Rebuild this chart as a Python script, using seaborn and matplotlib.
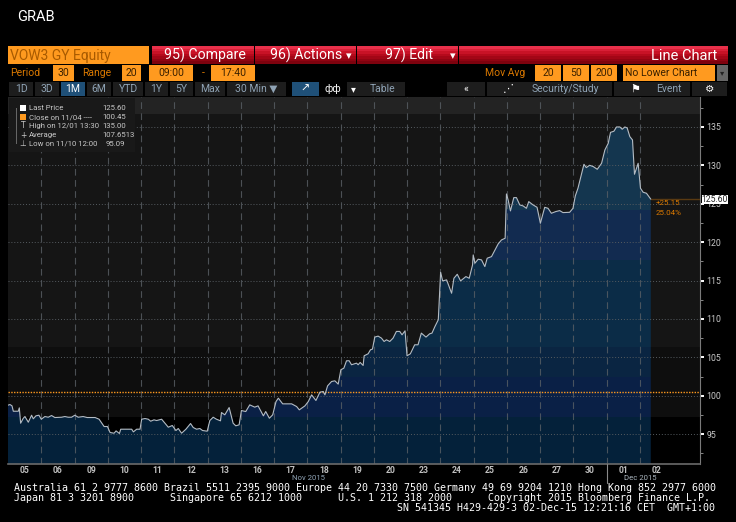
import numpy as np
import seaborn as sns
import matplotlib.pyplot as plt
from matplotlib.patches import Rectangle

# position in trading days since 05 Nov, 30 min closes
pos = [0.00, 0.06, 0.12, 0.16, 0.31, 0.34, 0.38, 0.46, 0.51, 0.61, 0.71, 0.76, 0.84, 0.93, 1.00, 1.11, 1.21, 1.31, 1.41, 1.61,
       1.71, 1.81, 1.91, 2.01, 2.11, 2.26, 2.38, 2.62, 2.74, 2.89, 2.99, 3.07, 3.19, 3.25, 3.35, 3.39, 3.62, 3.72, 3.77, 3.87,
       3.97, 4.02, 4.12, 4.22, 4.29, 4.39, 4.47, 4.62, 4.72, 4.82, 4.94, 5.05, 5.12, 5.22, 5.35, 5.49, 5.57, 5.67, 5.77, 5.85,
       5.99, 6.07, 6.17, 6.27, 6.39, 6.42, 6.52, 6.65, 6.77, 6.85, 6.95, 7.02, 7.15, 7.27, 7.42, 7.52, 7.68, 7.75, 7.86, 7.96,
       8.06, 8.13, 8.26, 8.53, 8.68, 8.76, 8.93, 9.03, 9.13, 9.26, 9.38, 9.48, 9.53, 9.61, 9.73, 9.83, 9.93, 10.01, 10.10, 10.18,
       10.26, 10.33, 10.48, 10.53, 10.59, 10.68, 10.71, 10.83, 10.90, 10.96, 11.03, 11.13, 11.23, 11.31, 11.38, 11.48, 11.58, 11.68, 11.78, 11.85,
       11.94, 12.00, 12.10, 12.23, 12.33, 12.43, 12.57, 12.68, 12.75, 12.84, 12.94, 12.97, 13.01, 13.07, 13.19, 13.34, 13.41, 13.51, 13.61, 13.77,
       13.87, 13.97, 13.99, 14.04, 14.14, 14.24, 14.34, 14.41, 14.54, 14.74, 14.84, 14.95, 14.99, 15.04, 15.11, 15.21, 15.29, 15.39, 15.49, 15.59,
       15.66, 15.79, 15.91, 16.01, 16.14, 16.24, 16.34, 16.47, 16.59, 16.69, 16.89, 16.99, 17.06, 17.14, 17.24, 17.32, 17.39, 17.49, 17.60, 17.72,
       17.85, 17.95, 18.05, 18.12, 18.22, 18.30, 18.40, 18.47, 18.55, 18.62, 18.70, 18.78, 18.84, 18.95, 19.02, 19.10, 19.20, 19.33]
price = [98.78, 98.86, 98.69, 97.99, 97.99, 98.43, 96.43, 97.08, 97.30, 96.56, 97.47, 97.00, 97.39, 97.47, 96.95, 97.30, 97.21, 97.43, 97.17, 97.21,
         97.30, 97.21, 97.21, 97.47, 97.21, 97.30, 97.17, 97.17, 96.95, 96.00, 96.00, 95.22, 95.13, 95.43, 95.09, 95.65, 95.65, 95.65, 95.30, 95.65,
         95.65, 96.95, 97.04, 96.95, 96.69, 96.87, 96.78, 96.95, 96.43, 95.91, 96.13, 95.48, 95.74, 95.13, 95.65, 96.39, 95.87, 95.65, 95.74, 95.48,
         95.39, 96.78, 97.21, 96.95, 96.74, 97.82, 97.52, 98.47, 96.43, 96.09, 96.22, 98.08, 97.95, 98.82, 98.52, 98.69, 97.39, 97.95, 97.08, 97.52,
         99.25, 99.69, 98.95, 98.95, 98.60, 98.17, 98.69, 99.25, 100.12, 99.39, 100.47, 100.56, 100.12, 101.29, 101.86, 101.95, 101.52, 103.39, 103.60, 104.56,
         104.56, 104.04, 104.25, 104.04, 104.34, 103.95, 105.21, 105.47, 105.99, 106.08, 107.64, 107.77, 107.51, 107.07, 107.29, 107.07, 107.51, 108.38, 108.38, 107.94,
         108.46, 105.21, 105.47, 106.64, 106.64, 108.16, 107.64, 108.07, 108.16, 109.03, 109.90, 112.48, 116.08, 114.96, 115.09, 113.35, 115.30, 115.82, 114.96, 115.52,
         115.30, 117.04, 118.34, 117.26, 117.78, 117.69, 116.82, 117.91, 118.12, 119.77, 120.29, 120.51, 126.28, 125.50, 124.07, 125.80, 125.80, 124.85, 124.72, 124.41,
         125.28, 124.85, 124.54, 122.46, 124.54, 124.41, 123.76, 123.98, 124.11, 123.85, 123.89, 124.41, 126.02, 127.02, 128.75, 130.14, 129.71, 130.01, 129.84, 129.49,
         130.27, 132.01, 132.87, 134.30, 134.44, 135.00, 135.00, 134.70, 135.00, 134.87, 133.74, 133.31, 128.84, 130.27, 127.02, 126.50, 126.37, 125.60]
day_labels = ["05", "06", "09", "10", "11", "12", "13", "16", "17", "18", "19", "20", "23", "24", "25", "26", "27", "30", "01", "02"]
y_ticks = [95, 100, 105, 110, 115, 120, 125, 130, 135]
close_level = 100.45
last_price = 125.60

W, H = 736, 522
ORANGE = "#ff9a1f"
DARK_ORANGE = "#d97800"
BTN_TXT = "#8fa3b5"

sns.set_style("dark")
plt.rcParams["font.family"] = ["Roboto", "DejaVu Sans"]

fig = plt.figure(figsize=(W / 100, H / 100), dpi=100, facecolor="black")


def box(x0, y0, x1, y1, color, **kw):
    fig.add_artist(Rectangle((x0 / W, 1 - y1 / H), (x1 - x0) / W, (y1 - y0) / H, transform=fig.transFigure,
                             facecolor=color, edgecolor="none", **kw))


def txt(x, y, s, color="white", size=7, ha="left", **kw):
    fig.text(x / W, 1 - y / H, s, color=color, fontsize=size, ha=ha, va="center", **kw)


def red_button(x0, x1):
    shades = ["#e8304a", "#d81f36", "#c81226", "#b50a1c", "#a30616", "#900412", "#7e020e"]
    step = 18 / len(shades)
    for i, c in enumerate(shades):
        box(x0, 46 + i * step, x1, 46 + (i + 1) * step, c)


ax = fig.add_axes([8 / W, 1 - 464 / H, 692 / W, 367 / H])
ax.set_facecolor("black")
ax.set_xlim(0, 20.81)
ax.set_ylim(91.12, 138.9)

# background bands of the plot area
ax.axhspan(136.75, 138.9, color="#232323", lw=0, zorder=0)
ax.axhspan(106.35, 136.75, color="#151515", lw=0, zorder=0)
ax.axhspan(97.2, 106.35, color="#0e0e0e", lw=0, zorder=0)

# area under the line, banded the same way
area = ax.fill_between(pos, price, 91.12, color="none", lw=0, zorder=1)
clip = area.get_paths()[0]
bands = [(124.2, 138.9, "#14364f"), (117.7, 124.2, "#122b50"), (106.35, 117.7, "#0b2c47"),
         (102.45, 106.35, "#0a2542"), (97.2, 102.45, "#0a2046"), (91.12, 97.2, "#04213a")]
for low, high, c in bands:
    span = ax.axhspan(low, high, color=c, lw=0, zorder=1)
    span.set_clip_path(clip, transform=ax.transData)

# grid
for k in range(1, 20):
    ax.axvline(k, color="#5a6066", lw=0.8, ls=(0, (6, 4)), alpha=0.8, zorder=2)
for v in y_ticks:
    ax.axhline(v, color="#555b60", lw=0.7, ls=(0, (1, 2)), zorder=2)

sns.lineplot(x=pos, y=price, estimator=None, sort=False, color="#b4bcc4", lw=0.8, ax=ax, zorder=4)
ax.axhline(close_level, color=ORANGE, lw=1.0, ls=(0, (1, 1)), zorder=3)

ax.set_xlabel("")
ax.set_ylabel("")
for s in ["top", "left"]:
    ax.spines[s].set_visible(False)
ax.spines["right"].set_color("#7a7a7a")
ax.spines["bottom"].set_color("#6a6a6a")
ax.spines["bottom"].set_linewidth(1.2)

ax.yaxis.tick_right()
ax.set_yticks(y_ticks)
ax.set_yticks([v + 2.5 for v in y_ticks[:-1]] + [92.5, 137.5], minor=True)
ax.set_yticklabels([str(v) for v in y_ticks], color="#c8c8c8", fontsize=6.3)
ax.tick_params(axis="y", which="major", length=3, width=1.4, color="white", pad=1.5, right=True)
ax.tick_params(axis="y", which="minor", length=2, width=0.7, color="#888888", right=True)
ax.set_xticks([k + 0.5 for k in range(len(day_labels))])
ax.set_xticklabels(day_labels, color="#c0c0c0", fontsize=6.2, fontweight="bold")
ax.tick_params(axis="x", length=0, pad=1.5)
ax.grid(False, axis="both", which="both")

# last price marker
ax.plot([pos[-1], 20.81], [last_price, last_price], color="#5a3a12", lw=1, zorder=3)
box(702, 195, 728, 204, "white", zorder=5)
txt(715, 199.5, "125.60", color="#222222", size=6.2, ha="center", zorder=6)
txt(656, 203, "+25.15", color=DARK_ORANGE, size=5.8)
txt(656, 213, "25.04%", color=DARK_ORANGE, size=5.8)

# month labels
txt(308, 478, "Nov 2015", color="#8fa3b5", size=5.6, ha="center")
txt(640, 478, "Dec 2015", color="#a9b4bd", size=5.6, ha="center")
fig.add_artist(plt.Line2D([607 / W, 607 / W], [1 - 464 / H, 1 - 483 / H], color="#8a8a8a", lw=0.8))

# header
txt(17, 17, "GRAB", size=10.5)
box(8, 46, 149, 64, ORANGE)
txt(10, 56, "VOW3 GY Equity", color="#a85a00", size=10)
for x0, x1 in [(152, 254), (255, 356), (357, 458), (459, 728)]:
    red_button(x0, x1)
txt(164, 55.5, "95) Compare", size=10.2)
txt(270, 55.5, "96) Actions", size=10.2)
txt(385, 55.5, "97) Edit", size=10.2)
txt(717, 56, "Line Chart", size=10.5, ha="right")
for x in [349, 453]:
    txt(x, 56, "▾", size=8, ha="center", family="DejaVu Sans")

# period row
txt(10, 73, "Period", color=DARK_ORANGE, size=7.5)
txt(82, 73, "Range", color=DARK_ORANGE, size=7.5)
txt(485, 73, "Mov Avg", color=DARK_ORANGE, size=7.5)
for x0, x1, s in [(53, 74, "30"), (122, 141, "20"), (149, 193, "09:00"), (211, 255, "17:40"),
                  (535, 561, "20"), (563, 589, "50"), (591, 617, "200")]:
    box(x0, 65, x1, 81, ORANGE)
    txt((x0 + x1) / 2, 73, s, color="#3a2000", size=7.5, ha="center")
txt(203, 73, "-", color=DARK_ORANGE, size=7.5, ha="center")
box(623, 65, 715, 81, ORANGE)
txt(625, 73, "No Lower Chart", color="#3a2000", size=7.5)
box(717, 65, 728, 81, "#666666")
txt(722.5, 73, "▾", size=6, color="#222222", ha="center", family="DejaVu Sans")

# toolbar row
buttons = [(9, 33, "1D"), (35, 59, "3D"), (61, 85, "1M"), (87, 111, "6M"), (113, 143, "YTD"), (145, 168, "1Y"),
           (170, 193, "5Y"), (195, 225, "Max"), (227, 286, "30 Min ▼"), (360, 405, "Table"), (447, 485, "«"),
           (487, 612, ""), (614, 690, ""), (692, 727, "⚙")]
for x0, x1, s in buttons:
    on = s == "1M"
    box(x0, 82, x1, 96, "#1f5078" if on else "#1d1d1d")
    if s:
        txt((x0 + x1) / 2, 89, s, color="white" if on or s in ("«", "⚙") else BTN_TXT, size=7.5, ha="center",
            family=["Roboto", "DejaVu Sans"])
txt(565, 89, "Security/Study", color=BTN_TXT, size=7.5, ha="center")
txt(669, 89, "Event", color=BTN_TXT, size=7.5, ha="center")
box(292, 82, 319, 96, "#1f5078")
box(319, 82, 346, 96, "black")
box(347, 82, 360, 96, "#1d1d1d")
txt(353.5, 89, "▾", size=7, ha="center", family="DejaVu Sans")
txt(305.5, 89, "↗", size=8, ha="center", family="DejaVu Sans")
txt(332.5, 89, "фф", size=7, ha="center", family="DejaVu Sans")
txt(635, 89, "⚑", size=8, ha="center", family="DejaVu Sans")
txt(508, 89, "⋰", size=8, ha="center", family="DejaVu Sans")

# legend box
box(9, 98, 135, 152, "#191919", zorder=3)
rows = [(108, "Last Price", "125.60", 102), (117, "Close on 11/04 ----", "100.45", 102),
        (126, "High on 12/01 13:30", "135.00", 102), (135, "Average", "107.6513", 102),
        (144, "Low on 11/10 12:00", "95.09", 106)]
for y, label, value, vx in rows:
    txt(29, y, label, color="#c8c8c8", size=5.6, zorder=4)
    txt(vx, y, value, color="#c8c8c8", size=5.6, zorder=4)
box(20, 105, 26, 111, "white", zorder=4)
box(20, 114, 26, 120, ORANGE, zorder=4)
box(16, 108, 17, 144, "#666666", zorder=4)
for y, s in [(126, "T"), (135, "+"), (144, "⊥")]:
    txt(23, y, s, color="#c8c8c8", size=5.5, ha="center", zorder=4, family="DejaVu Sans")

# footer
mono = "DejaVu Sans Mono"
txt(14, 488, "Australia 61 2 9777 8600 Brazil 5511 2395 9000 Europe 44 20 7330 7500 Germany 49 69 9204 1210 Hong Kong 852 2977 6000",
    size=7.2, family=mono)
txt(14, 498, "Japan 81 3 3201 8900      Singapore 65 6212 1000      U.S. 1 212 318 2000      Copyright 2015 Bloomberg Finance L.P.",
    size=7.2, family=mono)
txt(715, 508, "SN 541345 H429-429-3 02-Dec-15 12:21:16 CET  GMT+1:00", size=7.2, ha="right", family=mono)

fig.savefig("out.png", dpi=100, facecolor="black")
